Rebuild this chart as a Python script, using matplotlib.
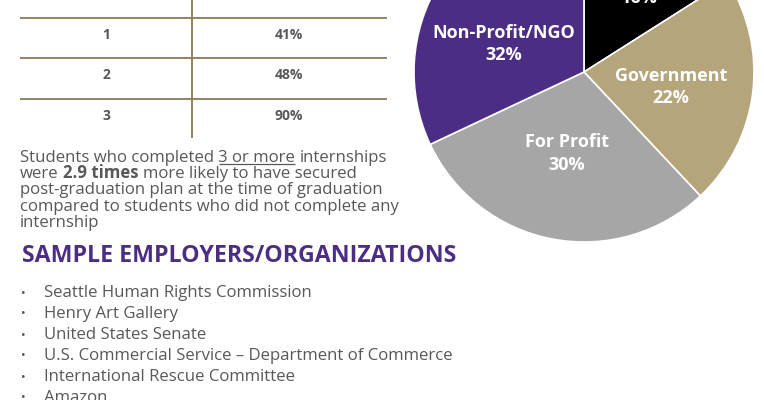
import numpy as np
import matplotlib
matplotlib.use("Agg")
import matplotlib.pyplot as plt

plt.rcParams['font.family'] = ['Open Sans', 'DejaVu Sans']

# table (header row is cropped off in the reference)
table_rows = ['1', '2', '3']
table_values = ['41%', '48%', '90%']

# pie: sectors of post-graduation placements
sectors = ['Other', 'Government', 'For Profit', 'Non-Profit/NGO']
shares = [16, 22, 30, 32]
sector_colors = ['#000000', '#b5a57b', '#a6a6a6', '#4b2e83']

employers = [
    'Seattle Human Rights Commission',
    'Henry Art Gallery',
    'United States Senate',
    'U.S. Commercial Service \u2013 Department of Commerce',
    'International Rescue Committee',
    'Amazon',
]

TEXT = '#58585a'
PURPLE = '#4b2e83'
LINE = '#8a7a55'

fig = plt.figure(figsize=(7.64, 4.0), dpi=100)
ax = fig.add_axes([0, 0, 1, 1])
ax.set_xlim(0, 764)
ax.set_ylim(400, 0)
ax.axis('off')
renderer = fig.canvas.get_renderer()

# --- table ---
row_h = 40.5
top = 17.7
for i in range(len(table_rows)):
    y = top + i * row_h
    ax.hlines(y, 20, 387, color=LINE, lw=1.3)
    ax.text(106, y + row_h / 2 - 3, table_rows[i], ha='center', va='center',
            fontsize=10, fontweight='bold', color=TEXT)
    ax.text(289, y + row_h / 2 - 3, table_values[i], ha='center', va='center',
            fontsize=10, fontweight='bold', color=TEXT)
ax.vlines(192, -5, 138, color=LINE, lw=1.3)


# --- paragraph with inline styles ---
def width(s, **kw):
    t = ax.text(0, 0, s, **kw)
    w = t.get_window_extent(renderer).width
    t.remove()
    return w


para_kw = dict(fontsize=12.1, color=TEXT, va='baseline')
space = width('a a', **para_kw) - width('aa', **para_kw)

para = [
    [('Students who completed', 'normal', False), ('3 or more', 'normal', True),
     ('internships', 'normal', False)],
    [('were', 'normal', False), ('2.9 times', 'bold', False),
     ('more likely to have secured', 'normal', False)],
    [('post-graduation plan at the time of graduation', 'normal', False)],
    [('compared to students who did not complete any', 'normal', False)],
    [('internship', 'normal', False)],
]
base_y = 162
for li, pieces in enumerate(para):
    x = 20
    y = base_y + li * 16.2
    for s, wgt, under in pieces:
        ax.text(x, y, s, fontweight=wgt, **para_kw)
        w = width(s, fontweight=wgt, **para_kw)
        if under:
            ax.hlines(y + 2.4, x, x + w, color=TEXT, lw=0.9)
        x += w + space

# --- heading ---
ax.text(22, 262, 'SAMPLE EMPLOYERS/ORGANIZATIONS', fontsize=16.7,
        fontweight='bold', color=PURPLE, va='baseline')

# --- bullets ---
for i, name in enumerate(employers):
    y = 293 + i * 21
    ax.text(23, y, '\u2022', fontsize=9, color=TEXT, ha='center', va='center')
    ax.text(44, y, name, fontsize=12.05, color=TEXT, va='center')

# --- pie ---
cx, cy, r = 584, 72, 170
pax = fig.add_axes([(cx - r) / 764, (400 - cy - r) / 400, 2 * r / 764, 2 * r / 400])
pax.pie(shares, colors=sector_colors, startangle=90, counterclock=False,
        radius=1, wedgeprops=dict(edgecolor='white', linewidth=1.2))
pax.set_xlim(-1, 1)
pax.set_ylim(-1, 1)
pax.set_aspect('equal')
pax.axis('off')

# label placement (radius fraction, angle in degrees)
label_pos = [(0.60, 57), (0.52, -10), (0.49, -102), (0.50, 161)]
for name, share, (lr, la) in zip(sectors, shares, label_pos):
    a = np.deg2rad(la)
    pax.text(lr * np.cos(a), lr * np.sin(a), f'{name}\n{share}%', ha='center',
             va='center', color='white', fontsize=13, fontweight='bold',
             linespacing=1.3)

fig.savefig('out.png', dpi=100)
